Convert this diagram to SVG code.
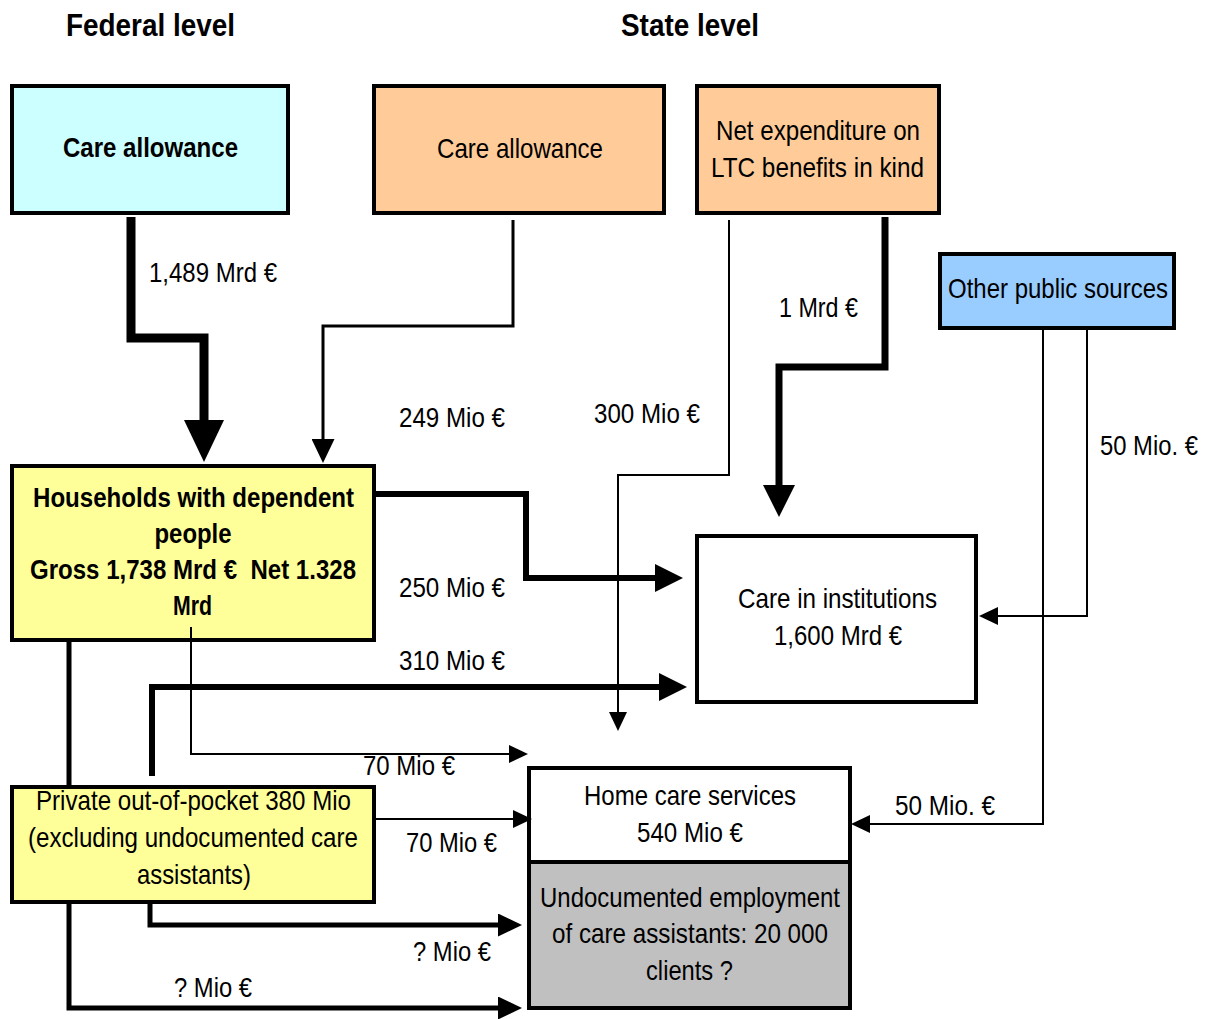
<svg xmlns="http://www.w3.org/2000/svg" width="1216" height="1019" viewBox="0 0 1216 1019">
<style>
text{font-family:"Liberation Sans Narrow","Liberation Sans",Arial,sans-serif;font-size:28px;fill:#000}
.b{font-weight:bold}
.t{font-size:32px;font-weight:bold}
.c{text-anchor:middle}
.box{stroke:#000;stroke-width:4}
.ln{fill:none;stroke:#000;stroke-linejoin:miter}
</style>
<defs>
<marker id="aXL" markerUnits="userSpaceOnUse" viewBox="0 0 42 40" refX="0" refY="20" markerWidth="42" markerHeight="40" orient="auto"><path d="M0,0 L42,20 L0,40 Z"/></marker>
<marker id="aL" markerUnits="userSpaceOnUse" viewBox="0 0 32 32" refX="0" refY="16" markerWidth="32" markerHeight="32" orient="auto"><path d="M0,0 L32,16 L0,32 Z"/></marker>
<marker id="aM" markerUnits="userSpaceOnUse" viewBox="0 0 28 28" refX="0" refY="14" markerWidth="28" markerHeight="28" orient="auto"><path d="M0,0 L28,14 L0,28 Z"/></marker>
<marker id="aS" markerUnits="userSpaceOnUse" viewBox="0 0 24 23" refX="0" refY="11.5" markerWidth="24" markerHeight="23" orient="auto"><path d="M0,0 L24,11.5 L0,23 Z"/></marker>
<marker id="aXS" markerUnits="userSpaceOnUse" viewBox="0 0 19 18" refX="0" refY="9" markerWidth="19" markerHeight="18" orient="auto"><path d="M0,0 L19,9 L0,18 Z"/></marker>
</defs>
<rect width="1216" height="1019" fill="#fff"/>
<g id="headers">
<text class="t c" x="150.5" y="36" textLength="169" lengthAdjust="spacingAndGlyphs">Federal level</text>
<text class="t c" x="690" y="36" textLength="138" lengthAdjust="spacingAndGlyphs">State level</text>
</g>
<g id="fed-care-allowance">
<rect class="box" x="12" y="86" width="276" height="127" fill="#CCFFFF"/>
<text class="b c" x="150.5" y="157" textLength="175" lengthAdjust="spacingAndGlyphs">Care allowance</text>
</g>
<g id="state-care-allowance">
<rect class="box" x="374" y="86" width="290" height="127" fill="#FFCC99"/>
<text class="c" x="520" y="158" textLength="166" lengthAdjust="spacingAndGlyphs">Care allowance</text>
</g>
<g id="net-expenditure">
<rect class="box" x="697" y="86" width="242" height="127" fill="#FFCC99"/>
<text class="c" x="818" y="140" textLength="204" lengthAdjust="spacingAndGlyphs">Net expenditure on</text>
<text class="c" x="817.5" y="177" textLength="213" lengthAdjust="spacingAndGlyphs">LTC benefits in kind</text>
</g>
<g id="other-public-sources">
<rect class="box" x="940" y="254" width="234" height="74" fill="#99CCFF"/>
<text class="c" x="1058" y="298" textLength="220" lengthAdjust="spacingAndGlyphs">Other public sources</text>
</g>
<g id="households">
<rect class="box" x="12" y="466" width="362" height="174" fill="#FFFF99"/>
<text class="b c" x="193.5" y="507" textLength="321" lengthAdjust="spacingAndGlyphs">Households with dependent</text>
<text class="b c" x="193" y="543" textLength="77" lengthAdjust="spacingAndGlyphs">people</text>
<text class="b c" x="193" y="579" textLength="326" lengthAdjust="spacingAndGlyphs" xml:space="preserve">Gross 1,738 Mrd €  Net 1.328</text>
<text class="b c" x="192.5" y="615" textLength="39" lengthAdjust="spacingAndGlyphs">Mrd</text>
</g>
<g id="care-institutions">
<rect class="box" x="697" y="536" width="279" height="166" fill="#fff"/>
<text class="c" x="837.5" y="608" textLength="199" lengthAdjust="spacingAndGlyphs">Care in institutions</text>
<text class="c" x="838" y="645" textLength="128" lengthAdjust="spacingAndGlyphs">1,600 Mrd €</text>
</g>
<g id="home-care-services">
<rect class="box" x="529" y="768" width="321" height="94" fill="#fff"/>
<text class="c" x="690" y="805" textLength="212" lengthAdjust="spacingAndGlyphs">Home care services</text>
<text class="c" x="690" y="842" textLength="106" lengthAdjust="spacingAndGlyphs">540 Mio €</text>
</g>
<g id="undocumented-employment">
<rect class="box" x="529" y="862" width="321" height="146" fill="#C0C0C0"/>
<text class="c" x="690" y="907" textLength="300" lengthAdjust="spacingAndGlyphs">Undocumented employment</text>
<text class="c" x="690" y="943" textLength="276" lengthAdjust="spacingAndGlyphs">of care assistants: 20 000</text>
<text class="c" x="689.5" y="980" textLength="87" lengthAdjust="spacingAndGlyphs">clients ?</text>
</g>
<g id="private-out-of-pocket">
<rect class="box" x="12" y="787" width="362" height="115" fill="#FFFF99"/>
<text class="c" x="193.5" y="810" textLength="315" lengthAdjust="spacingAndGlyphs">Private out-of-pocket 380 Mio</text>
<text class="c" x="193" y="847" textLength="330" lengthAdjust="spacingAndGlyphs">(excluding undocumented care</text>
<text class="c" x="194" y="884" textLength="114" lengthAdjust="spacingAndGlyphs">assistants)</text>
</g>
<g id="connectors">
<path class="ln" stroke-width="9" d="M131,217 V338 H204 V420" marker-end="url(#aXL)"/>
<text x="149" y="282" textLength="128" lengthAdjust="spacingAndGlyphs">1,489 Mrd €</text>
<path class="ln" stroke-width="3" d="M513,220 V326 H323 V439" marker-end="url(#aS)"/>
<text x="399" y="427" textLength="106" lengthAdjust="spacingAndGlyphs">249 Mio €</text>
<path class="ln" stroke-width="2" d="M729,220 V475 H618 V712" marker-end="url(#aXS)"/>
<text x="594" y="423" textLength="106" lengthAdjust="spacingAndGlyphs">300 Mio €</text>
<path class="ln" stroke-width="7" d="M885,217 V367 H779 V485" marker-end="url(#aL)"/>
<text x="779" y="317" textLength="79" lengthAdjust="spacingAndGlyphs">1 Mrd €</text>
<path class="ln" stroke-width="2" d="M1087,330 V616 H998" marker-end="url(#aXS)"/>
<text x="1100" y="455" textLength="98" lengthAdjust="spacingAndGlyphs">50 Mio. €</text>
<path class="ln" stroke-width="2" d="M1043,330 V824 H870" marker-end="url(#aXS)"/>
<text x="895" y="815" textLength="100" lengthAdjust="spacingAndGlyphs">50 Mio. €</text>
<path class="ln" stroke-width="6" d="M376,494 H526 V578 H655" marker-end="url(#aM)"/>
<text x="399" y="597" textLength="106" lengthAdjust="spacingAndGlyphs">250 Mio €</text>
<path class="ln" stroke-width="6" d="M152,776 V687 H659" marker-end="url(#aM)"/>
<text x="399" y="670" textLength="106" lengthAdjust="spacingAndGlyphs">310 Mio €</text>
<path class="ln" stroke-width="2" d="M191,627 V754 H509" marker-end="url(#aXS)"/>
<text x="363" y="775" textLength="92" lengthAdjust="spacingAndGlyphs">70 Mio €</text>
<path class="ln" stroke-width="2" d="M376,819 H513" marker-end="url(#aXS)"/>
<text x="406" y="852" textLength="91" lengthAdjust="spacingAndGlyphs">70 Mio €</text>
<path class="ln" stroke-width="5" d="M150,904 V925 H498" marker-end="url(#aS)"/>
<text x="413" y="961" textLength="78" lengthAdjust="spacingAndGlyphs">? Mio €</text>
<path class="ln" stroke-width="5" d="M69,642 V785 M69,904 V1008 H498" marker-end="url(#aS)"/>
<text x="174" y="997" textLength="78" lengthAdjust="spacingAndGlyphs">? Mio €</text>
</g>
</svg>
